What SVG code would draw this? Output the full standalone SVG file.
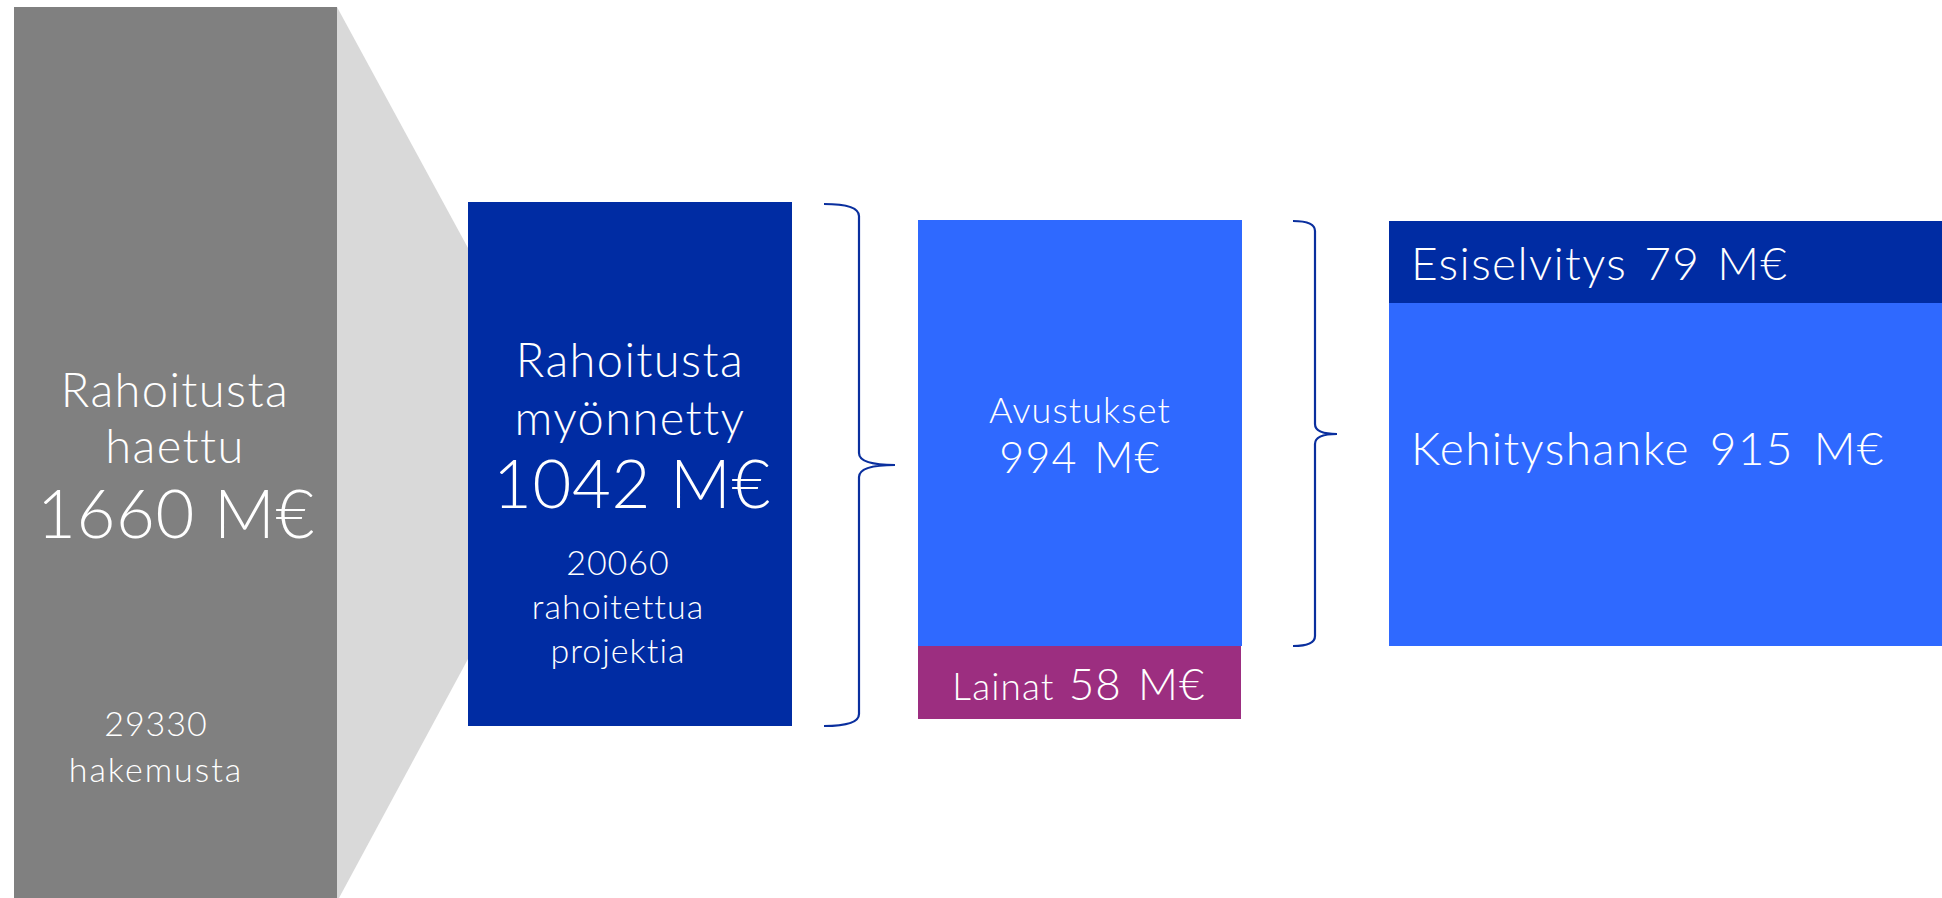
<svg xmlns="http://www.w3.org/2000/svg" width="1942" height="898" viewBox="0 0 1942 898">
<style>
.t{font-family:Lato,"Open Sans","Liberation Sans",sans-serif;font-weight:300;fill:#ffffff;text-anchor:middle;letter-spacing:0.03em;word-spacing:0.08em}
.big{letter-spacing:0.01em;word-spacing:0}
.l{text-anchor:start}
.brace{fill:none;stroke:#0A2F9E;stroke-width:2.2}
</style>
<rect width="1942" height="898" fill="#ffffff"/>
<g id="funnel">
<polygon points="337,7 468,248 468,659 339,898 337,898" fill="#D9D9D9"/>
</g>
<g id="haettu">
<rect x="14" y="7" width="323" height="891" fill="#808080"/>
<text class="t" x="175" y="407" font-size="47">Rahoitusta</text>
<text class="t" x="175" y="463" font-size="47">haettu</text>
<text class="t big" x="176" y="538" font-size="67">1660 M€</text>
<text class="t" x="156" y="736" font-size="34">29330</text>
<text class="t" x="156" y="782" font-size="34" style="letter-spacing:2px">hakemusta</text>
</g>
<g id="myonnetty">
<rect x="468" y="202" width="324" height="524" fill="#002CA3"/>
<text class="t" x="630" y="377" font-size="47">Rahoitusta</text>
<text class="t" x="630" y="435" font-size="47">myönnetty</text>
<text class="t big" x="632" y="508" font-size="67">1042 M€</text>
<text class="t" x="618" y="575" font-size="34">20060</text>
<text class="t" x="618" y="619" font-size="34">rahoitettua</text>
<text class="t" x="618" y="663" font-size="34">projektia</text>
</g>
<g id="avustukset">
<rect x="918" y="220" width="324" height="426" fill="#2F69FF"/>
<text class="t" x="1080" y="423" font-size="36">Avustukset</text>
<text class="t" x="1080" y="473" font-size="43">994 M€</text>
</g>
<g id="lainat">
<rect x="918" y="646" width="323" height="73" fill="#9C2E80"/>
<text class="t" x="1079" y="700" font-size="37">Lainat <tspan font-size="44">58 M€</tspan></text>
</g>
<g id="esiselvitys">
<rect x="1389" y="221" width="553" height="82" fill="#002CA3"/>
<text class="t l" x="1411" y="280" font-size="46" style="word-spacing:3px">Esiselvitys 79 M€</text>
</g>
<g id="kehityshanke">
<rect x="1389" y="303" width="553" height="343" fill="#2F69FF"/>
<text class="t l" x="1411" y="465" font-size="46" style="word-spacing:6px">Kehityshanke 915 M€</text>
</g>
<g id="connectors">
<path class="brace" d="M824,204 Q859,204 859,216 L859,453 Q859,465 895,465 Q859,465 859,477 L859,714 Q859,726 824,726"/>
<path class="brace" d="M1293,221 Q1315,221 1315,231 L1315,424 Q1315,434 1337,434 Q1315,434 1315,444 L1315,636 Q1315,646 1293,646"/>
</g>
</svg>
